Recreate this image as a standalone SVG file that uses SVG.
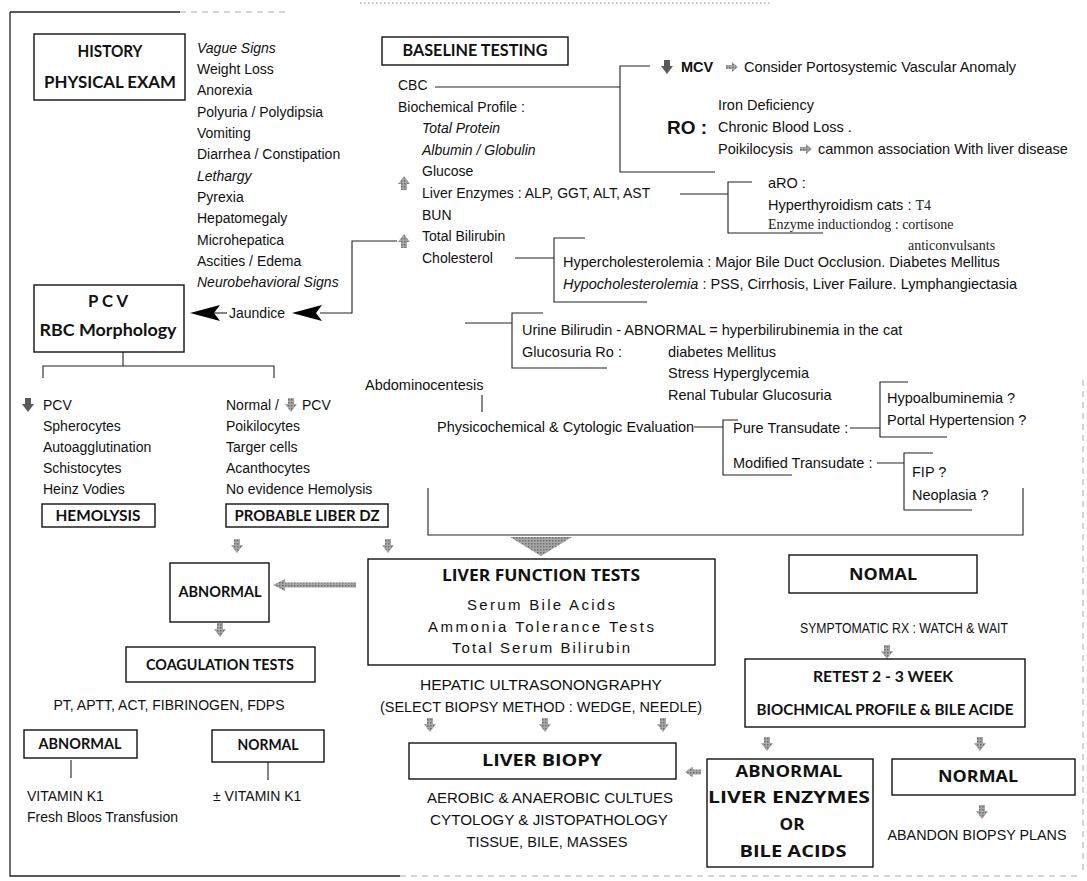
<svg xmlns="http://www.w3.org/2000/svg" width="1087" height="881" viewBox="0 0 1087 881">
<style>
.box{fill:#fff;stroke:#111;stroke-width:1.4}
.ln{fill:none;stroke:#222;stroke-width:1.1}
.fr{fill:none;stroke:#222;stroke-width:1.3}
.fa{fill:none;stroke:#aaa;stroke-width:1;stroke-dasharray:6 5}
.t{font-family:"Liberation Sans",Arial,sans-serif;font-size:14px;fill:#111}
.r{font-size:14.5px}
.i{font-style:italic}
.s{font-family:"Liberation Serif","Times New Roman",serif;font-size:14px;fill:#222}
.h{font-family:Lato,"Liberation Sans",sans-serif;font-weight:700;font-size:17px;fill:#111;text-anchor:middle}
.hw{font-family:"Open Sans","Liberation Sans",sans-serif;font-weight:700;font-size:16px;fill:#111;text-anchor:middle}
.sp{font-family:"Liberation Sans",Arial,sans-serif;font-size:15px;fill:#111;text-anchor:middle}
.c{text-anchor:middle}
.ar{fill:url(#stip)}
.ad{fill:#5a5a5a}
.blk{fill:#000}
</style>
<defs>
<pattern id="stip" width="3" height="3" patternUnits="userSpaceOnUse">
<rect width="3" height="3" fill="#a6a6a6"/>
<rect width="1.5" height="1.5" fill="#6e6e6e"/>
</pattern>
<path id="dn" d="M-3,-7H3V-1H6L0,7L-6,-1H-3Z"/>
<path id="up" d="M-3,7H3V1H6L0,-7L-6,1H-3Z"/>
<path id="rt" d="M-6,-2H0V-5L6,0L0,5V2H-6Z"/>
<path id="lt" d="M8,-2.5H0V-5.5L-8,0L0,5.5V2.5H8Z"/>
</defs>
<rect x="0" y="0" width="1087" height="881" fill="#fff"/>

<g id="frame">
<path class="fr" d="M10,12V876H400M10,12H180"/>
<path class="fa" d="M180,12H285M400,876H1080M1083,380V870"/>
<path fill="none" stroke="#888" stroke-width="1" stroke-dasharray="1.5 2.5" d="M360,3H770"/>
</g>

<g id="connectors">
<path class="ln" d="M397,241H352V313H320"/>
<polygon class="blk" points="292,313 322,305 316,313 322,321"/>
<path class="ln" d="M214,313H227"/>
<polygon class="blk" points="190,313 220,305 214,313 220,321"/>
<path class="ln" d="M123,352V366M43,378V366H274V378"/>
<path class="ln" d="M435,87H620M650,66H620V172H715"/>
<path class="ln" d="M680,194H728M752,182H728V233H823"/>
<path class="ln" d="M515,258H554M585,238H554V302H647"/>
<path class="ln" d="M465,323H512M543,313H512V368H607"/>
<path class="ln" d="M482,395V412"/>
<path class="ln" d="M694,427H723M738,420H723V475H792"/>
<path class="ln" d="M850,428H880M908,382H880V437H947"/>
<path class="ln" d="M877,463H904M933,453H904V510H972"/>
<path class="ln" d="M428,488V535H1023V488"/>
<polygon class="ar" points="510,537 572,537 541,556"/>
<polygon class="ar" points="273,585 285,579 285,582.5 356,582.5 356,587.5 285,587.5 285,591"/>
<use href="#dn" class="ar" x="237" y="546"/>
<use href="#dn" class="ar" x="388" y="546"/>
<use href="#dn" class="ar" x="220" y="630"/>
<use href="#dn" class="ar" x="430" y="725"/>
<use href="#dn" class="ar" x="545" y="725"/>
<use href="#dn" class="ar" x="663" y="725"/>
<use href="#dn" class="ar" x="887" y="652"/>
<use href="#dn" class="ar" x="767" y="744"/>
<use href="#dn" class="ar" x="980" y="744"/>
<use href="#dn" class="ar" x="982" y="812"/>
<use href="#lt" class="ar" x="693" y="772"/>
<path class="ln" d="M71,760V778M268,762V780"/>
</g>

<g id="n-history">
<rect class="box" x="34" y="34" width="151" height="66"/>
<text class="h" x="110" y="57" textLength="65" lengthAdjust="spacingAndGlyphs">HISTORY</text>
<text class="h" x="110" y="88" textLength="132" lengthAdjust="spacingAndGlyphs">PHYSICAL EXAM</text>
</g>

<g id="n-signs">
<text x="197" y="52.5" class="t i">Vague Signs</text>
<text x="197" y="73.9" class="t">Weight Loss</text>
<text x="197" y="95.2" class="t">Anorexia</text>
<text x="197" y="116.6" class="t">Polyuria / Polydipsia</text>
<text x="197" y="137.9" class="t">Vomiting</text>
<text x="197" y="159.3" class="t">Diarrhea / Constipation</text>
<text x="197" y="180.6" class="t i">Lethargy</text>
<text x="197" y="202" class="t">Pyrexia</text>
<text x="197" y="223.3" class="t">Hepatomegaly</text>
<text x="197" y="244.7" class="t">Microhepatica</text>
<text x="197" y="266" class="t">Ascities / Edema</text>
<text x="197" y="287.4" class="t i">Neurobehavioral Signs</text>
</g>

<g id="n-jaundice">
<text class="t" x="229" y="318">Jaundice</text>
</g>

<g id="n-pcv">
<rect class="box" x="34" y="285" width="150" height="67"/>
<text class="h" x="108" y="307" textLength="40" lengthAdjust="spacingAndGlyphs">P C V</text>
<text class="h" x="108" y="336" textLength="137" lengthAdjust="spacingAndGlyphs">RBC Morphology</text>
</g>

<g id="n-hemolysis">
<use href="#dn" class="ad" x="28" y="405"/>
<text class="t" x="43" y="410">PCV</text>
<text class="t" x="43" y="431">Spherocytes</text>
<text class="t" x="43" y="452">Autoagglutination</text>
<text class="t" x="43" y="473">Schistocytes</text>
<text class="t" x="43" y="494">Heinz Vodies</text>
<rect class="box" x="42" y="504" width="113" height="23"/>
<text class="h" x="98" y="521" style="font-size:15px" textLength="85" lengthAdjust="spacingAndGlyphs">HEMOLYSIS</text>
</g>

<g id="n-liberdz">
<text class="t" x="226" y="410">Normal /</text>
<use href="#dn" class="ar" x="291" y="405"/>
<text class="t" x="302" y="410">PCV</text>
<text class="t" x="226" y="431">Poikilocytes</text>
<text class="t" x="226" y="452">Targer cells</text>
<text class="t" x="226" y="473">Acanthocytes</text>
<text class="t" x="226" y="494">No evidence Hemolysis</text>
<rect class="box" x="226" y="504" width="162" height="23"/>
<text class="h" x="307" y="521" style="font-size:15px" textLength="145" lengthAdjust="spacingAndGlyphs">PROBABLE LIBER DZ</text>
</g>

<g id="n-baseline">
<rect class="box" x="382" y="37" width="186" height="28"/>
<text class="h" x="475" y="56" textLength="145" lengthAdjust="spacingAndGlyphs">BASELINE TESTING</text>
</g>

<g id="n-profile">
<text class="t" x="398" y="90">CBC</text>
<text class="t" x="398" y="112">Biochemical Profile :</text>
<text class="t i" x="422" y="133">Total Protein</text>
<text class="t i" x="422" y="155">Albumin / Globulin</text>
<text class="t" x="422" y="176">Glucose</text>
<use href="#up" class="ar" x="404" y="183"/>
<text class="t" x="422" y="198">Liver Enzymes :  ALP, GGT, ALT, AST</text>
<text class="t" x="422" y="220">BUN</text>
<use href="#up" class="ar" x="404" y="241"/>
<text class="t" x="422" y="241">Total Bilirubin</text>
<text class="t" x="422" y="263">Cholesterol</text>
</g>

<g id="n-mcv">
<use href="#dn" class="ad" x="667" y="67"/>
<text class="t r" x="681" y="72" font-weight="700">MCV</text>
<use href="#rt" class="ar" x="732" y="67"/>
<text class="t r" x="744" y="72">Consider Portosystemic Vascular Anomaly</text>
<text class="t" x="667" y="134" style="font-size:19px;font-weight:700">RO :</text>
<text class="t r" x="718" y="110">Iron Deficiency</text>
<text class="t r" x="718" y="132">Chronic Blood Loss .</text>
<text class="t r" x="718" y="154">Poikilocysis</text>
<use href="#rt" class="ar" x="806" y="149"/>
<text class="t r" x="818" y="154">cammon association With liver disease</text>
</g>

<g id="n-aro">
<text class="t r" x="768" y="188">aRO :</text>
<text class="t r" x="768" y="210">Hyperthyroidism cats : <tspan class="s">T4</tspan></text>
<text class="s" x="768" y="229">Enzyme inductiondog : cortisone</text>
<text class="s" x="908" y="250">anticonvulsants</text>
</g>

<g id="n-chol">
<text class="t r" x="563" y="267">Hypercholesterolemia : Major Bile Duct Occlusion. Diabetes Mellitus</text>
<text class="t r" x="563" y="289"><tspan class="i">Hypocholesterolemia</tspan> : PSS, Cirrhosis, Liver Failure. Lymphangiectasia</text>
</g>

<g id="n-urine">
<text class="t r" x="522" y="335">Urine Bilirudin - ABNORMAL = hyperbilirubinemia in the cat</text>
<text class="t r" x="522" y="357">Glucosuria Ro :</text>
<text class="t r" x="668" y="357">diabetes Mellitus</text>
<text class="t r" x="668" y="378">Stress Hyperglycemia</text>
<text class="t r" x="668" y="400">Renal Tubular Glucosuria</text>
</g>

<g id="n-abdomino">
<text class="t r" x="365" y="390">Abdominocentesis</text>
<text class="t r" x="437" y="432">Physicochemical &amp; Cytologic Evaluation</text>
</g>

<g id="n-transudate">
<text class="t r" x="733" y="433">Pure Transudate :</text>
<text class="t r" x="733" y="468">Modified Transudate :</text>
<text class="t r" x="887" y="403">Hypoalbuminemia ?</text>
<text class="t r" x="887" y="425">Portal Hypertension ?</text>
<text class="t r" x="912" y="477">FIP ?</text>
<text class="t r" x="912" y="500">Neoplasia ?</text>
</g>

<g id="n-abnormal1">
<rect class="box" x="170" y="563" width="99" height="59"/>
<text class="h" x="220" y="597" style="font-size:15px" textLength="83" lengthAdjust="spacingAndGlyphs">ABNORMAL</text>
</g>

<g id="n-coag">
<rect class="box" x="126" y="647" width="189" height="35"/>
<text class="h" x="220" y="670" style="font-size:15px" textLength="148" lengthAdjust="spacingAndGlyphs">COAGULATION TESTS</text>
<text class="t c" x="169" y="710">PT, APTT, ACT, FIBRINOGEN, FDPS</text>
</g>

<g id="n-abnormal2">
<rect class="box" x="24" y="730" width="113" height="28"/>
<text class="h" x="80" y="749" style="font-size:15px" textLength="83" lengthAdjust="spacingAndGlyphs">ABNORMAL</text>
<text class="t" x="27" y="801">VITAMIN K1</text>
<text class="t" x="27" y="822">Fresh Bloos Transfusion</text>
</g>

<g id="n-normal2">
<rect class="box" x="212" y="730" width="112" height="32"/>
<text class="h" x="268" y="750" style="font-size:15px" textLength="61" lengthAdjust="spacingAndGlyphs">NORMAL</text>
<text class="t" x="213" y="801">± VITAMIN K1</text>
</g>

<g id="n-lft">
<rect class="box" x="368" y="559" width="347" height="106"/>
<text class="hw" x="541" y="581" textLength="198" lengthAdjust="spacingAndGlyphs">LIVER FUNCTION TESTS</text>
<text class="sp" x="541" y="610" textLength="148">Serum Bile Acids</text>
<text class="sp" x="541" y="632" textLength="226">Ammonia Tolerance Tests</text>
<text class="sp" x="541" y="653" textLength="178">Total Serum Bilirubin</text>
</g>

<g id="n-hepatic">
<text class="t c" x="541" y="690" textLength="242" lengthAdjust="spacingAndGlyphs">HEPATIC ULTRASONONGRAPHY</text>
<text class="t c" x="541" y="712" textLength="322" lengthAdjust="spacingAndGlyphs">(SELECT BIOPSY METHOD : WEDGE, NEEDLE)</text>
</g>

<g id="n-biopsy">
<rect class="box" x="409" y="743" width="267" height="36"/>
<text class="hw" x="542" y="766" textLength="120" lengthAdjust="spacingAndGlyphs">LIVER BIOPY</text>
<text class="t c" x="550" y="803" textLength="246" lengthAdjust="spacingAndGlyphs">AEROBIC &amp; ANAEROBIC CULTUES</text>
<text class="t c" x="549" y="825" textLength="238" lengthAdjust="spacingAndGlyphs">CYTOLOGY &amp; JISTOPATHOLOGY</text>
<text class="t c" x="547" y="847" textLength="161" lengthAdjust="spacingAndGlyphs">TISSUE, BILE, MASSES</text>
</g>

<g id="n-nomal">
<rect class="box" x="789" y="555" width="188" height="38"/>
<text class="hw" x="883" y="580" textLength="68" lengthAdjust="spacingAndGlyphs">NOMAL</text>
<text class="t c" x="904" y="633" textLength="208" lengthAdjust="spacingAndGlyphs">SYMPTOMATIC RX : WATCH &amp; WAIT</text>
</g>

<g id="n-retest">
<rect class="box" x="745" y="659" width="280" height="68"/>
<text class="h" x="883" y="682" style="font-size:15px" textLength="140" lengthAdjust="spacingAndGlyphs">RETEST 2 - 3 WEEK</text>
<text class="h" x="885" y="715" style="font-size:15px" textLength="257" lengthAdjust="spacingAndGlyphs">BIOCHMICAL PROFILE &amp; BILE ACIDE</text>
</g>

<g id="n-abnormal3">
<rect class="box" x="707" y="759" width="166" height="108"/>
<text class="hw" x="789" y="777" textLength="107" lengthAdjust="spacingAndGlyphs">ABNORMAL</text>
<text class="hw" x="789" y="803" textLength="162" lengthAdjust="spacingAndGlyphs">LIVER ENZYMES</text>
<text class="hw" x="792" y="830" textLength="25" lengthAdjust="spacingAndGlyphs">OR</text>
<text class="hw" x="793" y="857" textLength="107" lengthAdjust="spacingAndGlyphs">BILE ACIDS</text>
</g>

<g id="n-normal3">
<rect class="box" x="892" y="759" width="183" height="36"/>
<text class="hw" x="978" y="782" textLength="80" lengthAdjust="spacingAndGlyphs">NORMAL</text>
<text class="t c" x="977" y="840" textLength="179" lengthAdjust="spacingAndGlyphs">ABANDON BIOPSY PLANS</text>
</g>
</svg>
